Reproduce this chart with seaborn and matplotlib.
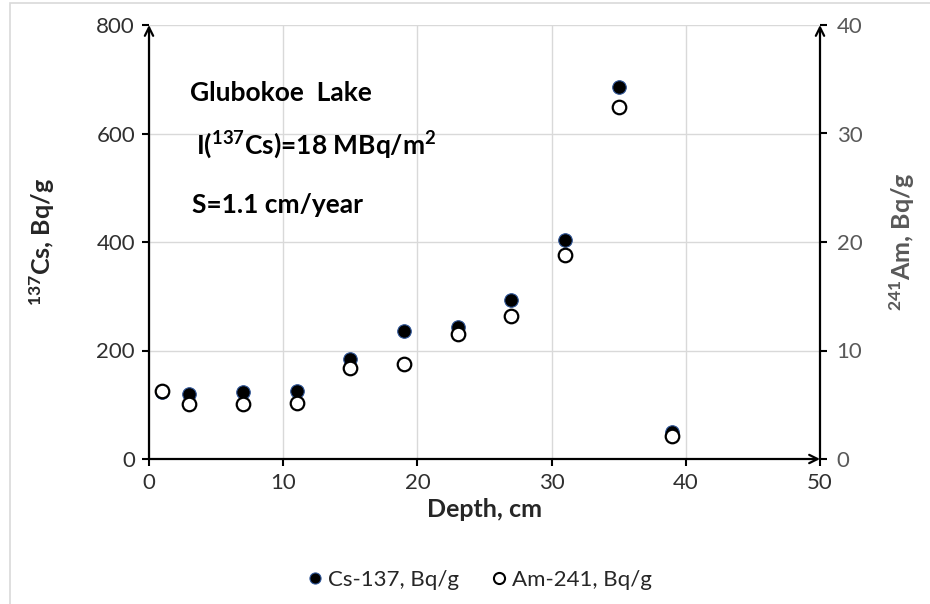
import matplotlib
matplotlib.use("Agg")
import matplotlib.pyplot as plt
from matplotlib.lines import Line2D
from matplotlib.patches import Rectangle
import pandas as pd
import seaborn as sns

# data
depth = [1, 3, 7, 11, 15, 19, 23, 27, 31, 35, 39]
cs137 = [123, 120, 123, 125, 184, 236, 243, 293, 404, 686, 50]
am241 = [6.3, 5.1, 5.1, 5.2, 8.4, 8.75, 11.55, 13.2, 18.8, 32.4, 2.1]

x_ticks = [0, 10, 20, 30, 40, 50]
cs_ticks = [0, 200, 400, 600, 800]
am_ticks = [0, 10, 20, 30, 40]

sns.set_theme(style="white")
plt.rcParams["font.family"] = ["Lato", "DejaVu Sans"]
plt.rcParams["mathtext.fontset"] = "custom"
plt.rcParams["mathtext.rm"] = "Lato"
plt.rcParams["mathtext.bf"] = "Lato:bold"

df = pd.DataFrame({"depth": depth, "cs": cs137, "am": am241})

fig = plt.figure(figsize=(9.3, 6.04), dpi=100)
ax = fig.add_axes([149 / 930, 1 - 459 / 604, 671 / 930, 434 / 604])
ax2 = ax.twinx()

# outer chart border (only left/top visible in the reference)
fig.patches.append(Rectangle((10 / 930, -0.1), 1.2, 1 - 3 / 604 + 0.1,
                             transform=fig.transFigure, fill=False,
                             edgecolor="#d9d9d9", lw=1.2, zorder=0))

sns.scatterplot(data=df, x="depth", y="cs", ax=ax, color="black",
                edgecolor="#2f5597", linewidth=0.8, s=95, zorder=3)
sns.scatterplot(data=df, x="depth", y="am", ax=ax2, color="white",
                edgecolor="black", linewidth=1.6, s=95, zorder=3)

ax.set_xlim(0, 50)
ax.set_ylim(0, 800)
ax2.set_ylim(0, 40)
ax.set_xticks(x_ticks)
ax.set_yticks(cs_ticks)
ax2.set_yticks(am_ticks)

ax.grid(True, color="#d9d9d9", lw=1)
ax2.grid(False)
for a in (ax, ax2):
    for s in a.spines.values():
        s.set_visible(False)

ax.tick_params(axis="both", direction="out", length=5, width=1.5,
               color="black", labelsize=16, labelcolor="#303030",
               left=True, bottom=True, pad=5)
ax2.tick_params(axis="y", direction="out", length=5, width=1.5,
                color="black", labelsize=16, labelcolor="#595959",
                right=True, pad=7)

# axis lines with arrow heads
arw = dict(arrowstyle="->,head_length=0.5,head_width=0.25", lw=1.6,
           color="black", shrinkA=0, shrinkB=0)
ax.annotate("", xy=(0, 1), xytext=(0, 0), xycoords="axes fraction",
            arrowprops=arw, annotation_clip=False)
ax.annotate("", xy=(1, 0), xytext=(0, 0), xycoords="axes fraction",
            arrowprops=arw, annotation_clip=False)
ax.annotate("", xy=(1, 1), xytext=(1, 0), xycoords="axes fraction",
            arrowprops=arw, annotation_clip=False)

ax.set_xlabel("Depth, cm", fontsize=18, fontweight="bold", color="#262626",
              labelpad=4)
ax.set_ylabel(r"$\mathbf{^{137}}$Cs, Bq/g", fontsize=18, fontweight="bold",
              color="#262626", labelpad=28)
ax2.set_ylabel(r"$\mathbf{^{241}}$Am, Bq/g", fontsize=18, fontweight="bold",
               color="#595959", labelpad=18)

ax.text(3.05, 675, "Glubokoe  Lake", fontsize=19, fontweight="bold",
        color="black", va="center")
ax.text(3.5, 579, r"I($\mathbf{^{137}}$Cs)=18 MBq/m$\mathbf{^2}$", fontsize=19,
        fontweight="bold", color="black", va="center")
ax.text(3.2, 468, "S=1.1 cm/year", fontsize=19, fontweight="bold",
        color="black", va="center")

handles = [
    Line2D([], [], ls="none", marker="o", markersize=8,
           markerfacecolor="black", markeredgecolor="#2f5597", mew=0.8),
    Line2D([], [], ls="none", marker="o", markersize=8,
           markerfacecolor="white", markeredgecolor="black", mew=1.5),
]
fig.legend(handles, ["Cs-137, Bq/g", "Am-241, Bq/g"], loc="center",
           bbox_to_anchor=(478 / 930, 1 - 580 / 604), ncol=2, frameon=False,
           fontsize=16, handletextpad=0.1, columnspacing=1.3,
           handlelength=1.0, labelcolor="#262626")

fig.savefig("out.png", dpi=100, facecolor="white")
